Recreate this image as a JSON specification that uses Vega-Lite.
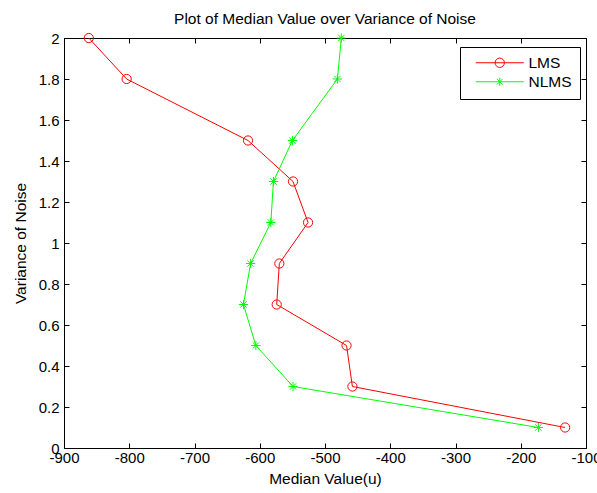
{
  "$schema": "https://vega.github.io/schema/vega-lite/v6.json",
  "width": 522,
  "height": 410,
  "autosize": {"type": "none"},
  "padding": {"left": 64, "top": 38, "right": 11, "bottom": 45},
  "background": "white",
  "config": {
    "font": "Liberation Sans",
    "view": {"stroke": null},
    "axis": {
      "grid": false,
      "domainColor": "#000000",
      "tickColor": "#000000",
      "labelColor": "#000000",
      "titleColor": "#000000",
      "labelFont": "Liberation Sans",
      "titleFont": "Liberation Sans",
      "labelFontSize": 15,
      "titleFontSize": 15.5,
      "titleFontWeight": "normal",
      "labelFlush": false,
      "labelOverlap": false,
      "tickSize": -5,
      "domainWidth": 1,
      "tickWidth": 1
    },
    "legend": {
      "title": null,
      "orient": "none",
      "legendX": 396,
      "legendY": 9,
      "padding": 8,
      "fillColor": "white",
      "strokeColor": "#000000",
      "symbolSize": 144,
      "symbolOffset": 24,
      "labelOffset": 21,
      "rowPadding": 2,
      "labelFont": "Liberation Sans",
      "labelFontSize": 15.5,
      "labelColor": "#000000",
      "symbolStrokeWidth": 1,
      "symbolFillColor": "transparent",
      "symbolOpacity": 1
    }
  },
  "title": {
    "text": "Plot of Median Value over Variance of Noise",
    "fontSize": 15.5,
    "fontWeight": "normal",
    "font": "Liberation Sans",
    "color": "#000000",
    "anchor": "middle",
    "offset": 4
  },
  "data": {
    "values": [
      {"series": "LMS", "median": -862, "variance": 2.0},
      {"series": "LMS", "median": -804, "variance": 1.8},
      {"series": "LMS", "median": -618, "variance": 1.5},
      {"series": "LMS", "median": -549, "variance": 1.3},
      {"series": "LMS", "median": -526, "variance": 1.1},
      {"series": "LMS", "median": -570, "variance": 0.9},
      {"series": "LMS", "median": -574, "variance": 0.7},
      {"series": "LMS", "median": -467, "variance": 0.5},
      {"series": "LMS", "median": -458, "variance": 0.3},
      {"series": "LMS", "median": -132, "variance": 0.1},
      {"series": "NLMS", "median": -475, "variance": 2.0},
      {"series": "NLMS", "median": -481, "variance": 1.8},
      {"series": "NLMS", "median": -550, "variance": 1.5},
      {"series": "NLMS", "median": -579, "variance": 1.3},
      {"series": "NLMS", "median": -583, "variance": 1.1},
      {"series": "NLMS", "median": -614, "variance": 0.9},
      {"series": "NLMS", "median": -625, "variance": 0.7},
      {"series": "NLMS", "median": -606, "variance": 0.5},
      {"series": "NLMS", "median": -549, "variance": 0.3},
      {"series": "NLMS", "median": -173, "variance": 0.1}
    ]
  },
  "resolve": {"axis": {"x": "independent", "y": "independent"}},
  "layer": [
    {
      "mark": {"type": "line", "strokeWidth": 1},
      "encoding": {
        "x": {
          "field": "median", "type": "quantitative",
          "scale": {"domain": [-900, -100], "nice": false, "zero": false},
          "axis": {
            "orient": "bottom",
            "values": [-900, -800, -700, -600, -500, -400, -300, -200, -100],
            "labelExpr": "'' + datum.value",
            "labelPadding": 7,
            "title": "Median Value(u)",
            "titlePadding": 6
          }
        },
        "y": {
          "field": "variance", "type": "quantitative",
          "scale": {"domain": [0, 2], "nice": false, "zero": false},
          "axis": {
            "orient": "left",
            "values": [0, 0.2, 0.4, 0.6, 0.8, 1, 1.2, 1.4, 1.6, 1.8, 2],
            "format": ".1~f",
            "labelPadding": 10,
            "title": "Variance of Noise",
            "titlePadding": 10
          }
        },
        "order": {"field": "variance", "type": "quantitative", "sort": "descending"},
        "color": {
          "field": "series", "type": "nominal",
          "scale": {"domain": ["LMS", "NLMS"], "range": ["#ff0000", "#00ff00"]}
        }
      }
    },
    {
      "transform": [{"filter": "datum.series === 'LMS'"}],
      "mark": {"type": "point", "shape": "circle", "filled": false, "size": 85, "strokeWidth": 1, "opacity": 1, "color": "#ff0000"},
      "encoding": {
        "x": {
          "field": "median", "type": "quantitative",
          "scale": {"domain": [-900, -100], "nice": false, "zero": false},
          "axis": {
            "orient": "top",
            "values": [-900, -800, -700, -600, -500, -400, -300, -200, -100],
            "labels": false,
            "title": null
          }
        },
        "y": {
          "field": "variance", "type": "quantitative",
          "scale": {"domain": [0, 2], "nice": false, "zero": false},
          "axis": {
            "orient": "right",
            "values": [0, 0.2, 0.4, 0.6, 0.8, 1, 1.2, 1.4, 1.6, 1.8, 2],
            "labels": false,
            "title": null
          }
        }
      }
    },
    {
      "transform": [{"filter": "datum.series === 'NLMS'"}],
      "mark": {"type": "point", "shape": "M-1,0H1M0,-1V1M-0.7,-0.7L0.7,0.7M-0.7,0.7L0.7,-0.7", "filled": false, "size": 85, "strokeWidth": 1, "opacity": 1, "color": "#00ff00"},
      "encoding": {
        "x": {"field": "median", "type": "quantitative", "axis": null},
        "y": {"field": "variance", "type": "quantitative", "axis": null}
      }
    },
    {
      "mark": {"type": "point", "filled": false, "opacity": 0, "strokeWidth": 1},
      "encoding": {
        "x": {"field": "median", "type": "quantitative", "axis": null},
        "y": {"field": "variance", "type": "quantitative", "axis": null},
        "color": {
          "field": "series", "type": "nominal",
          "scale": {"domain": ["LMS", "NLMS"], "range": ["#ff0000", "#00ff00"]}
        },
        "shape": {
          "field": "series", "type": "nominal",
          "scale": {
            "domain": ["LMS", "NLMS"],
            "range": [
              "M-4,0H4M0.78,0A0.78,0.78 0 1,1 -0.78,0A0.78,0.78 0 1,1 0.78,0",
              "M-4,0H4M0,-0.67V0.67M-0.47,-0.47L0.47,0.47M-0.47,0.47L0.47,-0.47"
            ]
          }
        }
      }
    }
  ]
}
